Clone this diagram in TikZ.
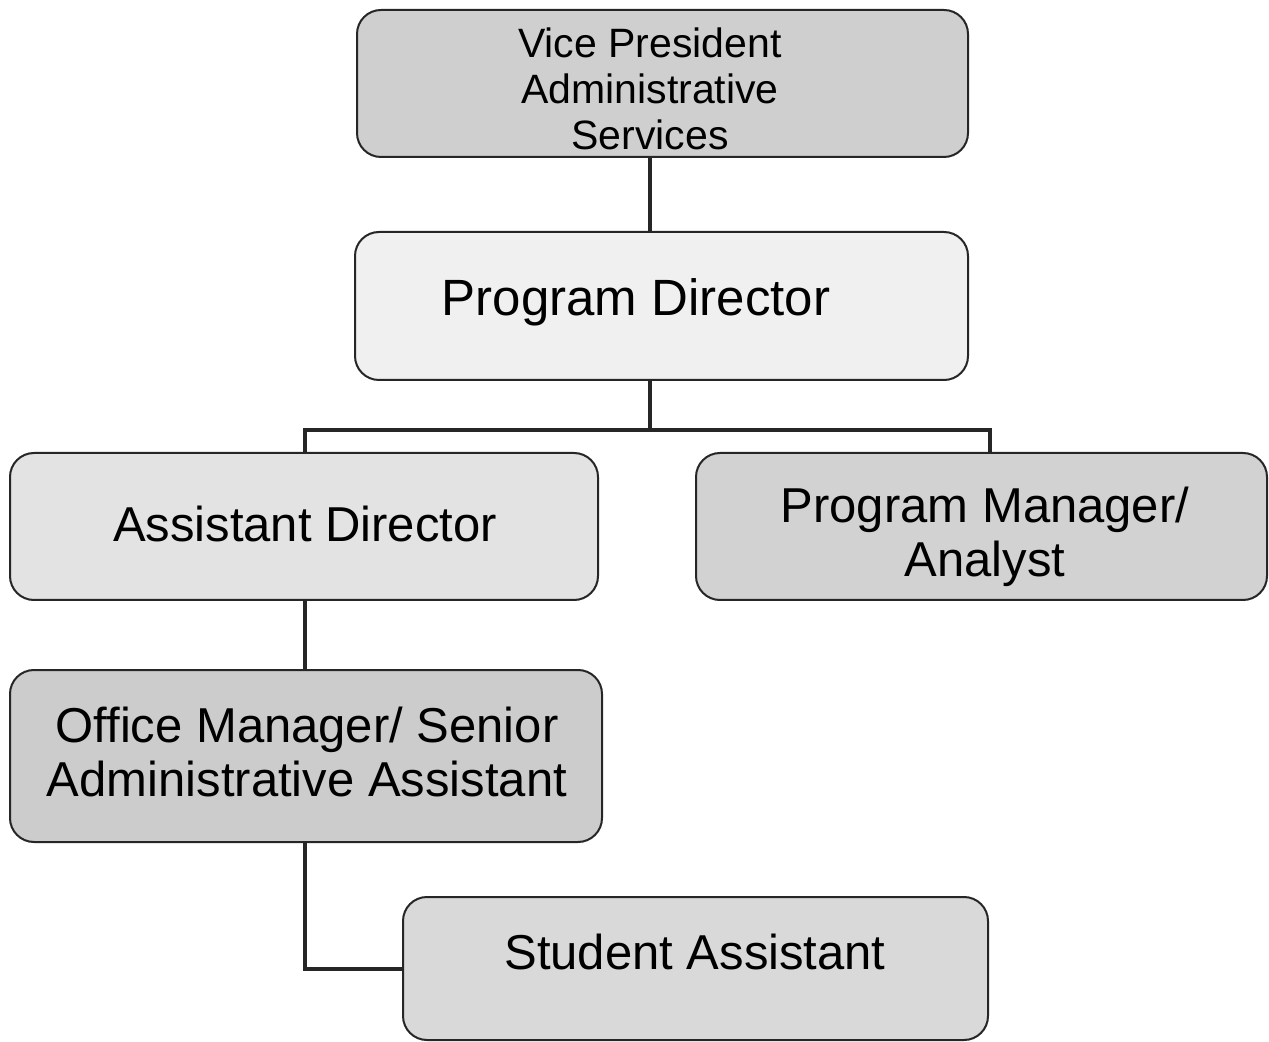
\documentclass[tikz,border=0pt]{standalone}
\usepackage{fontspec}
\setmainfont{Liberation Sans}
\begin{document}
\begin{tikzpicture}[x=0.5pt,y=-0.5pt,
  box/.style={draw=black!85,line width=1pt,rounded corners=12pt,inner sep=0pt},
  txt/.style={align=center,inner sep=0pt},
  big/.style={font=\fontsize{24.5}{27}\selectfont},
  small/.style={font=\fontsize{20.5}{23}\selectfont},
  conn/.style={draw=black!85,line width=2pt}]
\useasboundingbox (0,0) rectangle (1269,1042);
\node[box,fill=gray!38,minimum width=305.5pt,minimum height=73.5pt] (vp) at (662.5,83.5) {};
\node[box,fill=gray!12,minimum width=306.5pt,minimum height=74pt] (pd) at (661.5,306) {};
\node[box,fill=gray!22,minimum width=294pt,minimum height=73.5pt] (ad) at (304,526.5) {};
\node[box,fill=gray!35,minimum width=285.5pt,minimum height=73.5pt] (pm) at (981.5,526.5) {};
\node[box,fill=gray!40,minimum width=296pt,minimum height=86pt] (om) at (306,756) {};
\node[box,fill=gray!30,minimum width=292.5pt,minimum height=71.5pt] (sa) at (695.5,968.5) {};
\node[txt,small] (vpt) at (650,89) {Vice President\\Administrative\\Services};
\node[txt,font=\fontsize{25.5}{28}\selectfont] (pdt) at (636,302) {Program Director};
\node[txt,big] (adt) at (305,524) {Assistant Director};
\node[txt,big] (pmt) at (985,537) {Program Manager/\\Analyst};
\node[txt,big] (omt) at (307,752) {Office Manager/ Senior\\Administrative Assistant};
\node[txt,big] (sat) at (695,952) {Student Assistant};
\coordinate (bar) at (0,430);
\coordinate (c1) at (650,0);
\coordinate (c2) at (305,0);
\coordinate (c3) at (990,0);
\draw[conn] (vp.south -| c1) -- (pd.north -| c1);
\draw[conn] (pd.south -| c1) -- (bar -| c1);
\draw[conn] (ad.north -| c2) |- (bar -| c3) -- (pm.north -| c3);
\draw[conn] (ad.south -| c2) -- (om.north -| c2);
\draw[conn] (om.south -| c2) |- (sa.west);
\end{tikzpicture}
\end{document}
